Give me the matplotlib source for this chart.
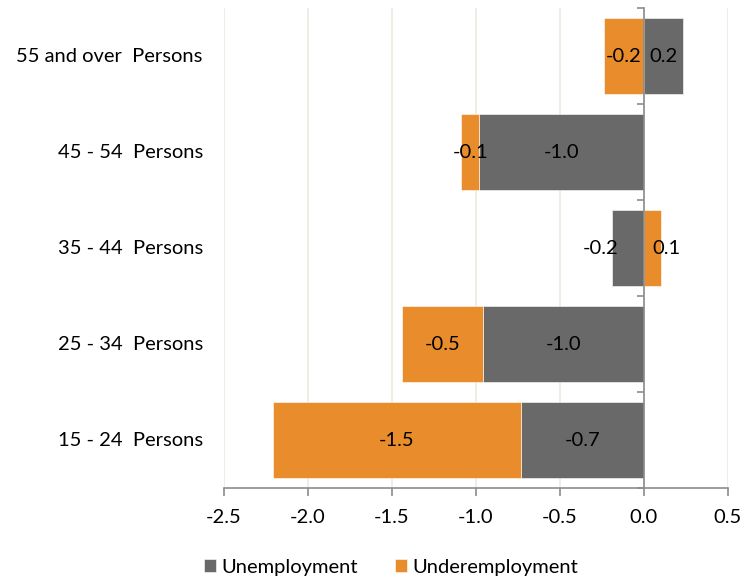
import matplotlib.pyplot as plt
import numpy as np

# Veränderung nach Altersgruppe (Prozentpunkte)
categories = ['15 - 24  Persons', '25 - 34  Persons', '35 - 44  Persons',
              '45 - 54  Persons', '55 and over  Persons']
unemployment = [-0.73, -0.96, -0.19, -0.98, 0.23]
underemployment = [-1.48, -0.48, 0.10, -0.11, -0.24]
xticks = [-2.5, -2.0, -1.5, -1.0, -0.5, 0.0, 0.5]

grey = '#696969'
orange = '#E98C2B'
axis_col = '#8C8C8C'
grid_col = '#EEEAE0'

plt.rcParams['font.family'] = ['Lato', 'DejaVu Sans']
plt.rcParams['font.size'] = 14.5

fig = plt.figure(figsize=(7.43, 5.81), dpi=100)
ax = fig.add_axes([224 / 743, 1 - 488 / 581, 504 / 743, 480 / 581])

y = np.arange(len(categories))
unemp = np.array(unemployment)
under = np.array(underemployment)
# positive und negative Werte getrennt stapeln
under_left = np.where(np.sign(under) == np.sign(unemp), unemp, 0.0)

ax.barh(y, unemp, height=0.8, color=grey, edgecolor='white', linewidth=0.4,
        label='Unemployment', zorder=3)
ax.barh(y, under, left=under_left, height=0.8, color=orange, edgecolor='white',
        linewidth=0.4, label='Underemployment', zorder=3)

# Beschriftungen in der Mitte der Balken
offsets_u = [0, 0, -27, 0, 0]
offsets_o = [0, 0, 14, 0, 0]
for i in range(len(categories)):
    ax.annotate(f'{unemp[i]:.1f}', (unemp[i] / 2, y[i]), xytext=(offsets_u[i], 0),
                textcoords='offset pixels', ha='center', va='center', zorder=5)
    ax.annotate(f'{under[i]:.1f}', (under_left[i] + under[i] / 2, y[i]),
                xytext=(offsets_o[i], 0), textcoords='offset pixels',
                ha='center', va='center', zorder=5)

ax.set_xlim(-2.5, 0.5)
ax.set_ylim(-0.5, len(categories) - 0.5)
ax.set_xticks(xticks)
ax.set_xticklabels([f'{t:.1f}' for t in xticks])
ax.xaxis.grid(True, color=grid_col, linewidth=1.2, zorder=0)
ax.set_axisbelow(True)

for s in ['top', 'right']:
    ax.spines[s].set_visible(False)
ax.spines['bottom'].set_color(axis_col)
ax.spines['bottom'].set_linewidth(1.2)
ax.spines['left'].set_position(('data', 0))
ax.spines['left'].set_color(axis_col)
ax.spines['left'].set_linewidth(1.2)
ax.spines['left'].set_zorder(4)
ax.tick_params(axis='x', direction='out', length=6, width=1.2, color=axis_col, pad=9)

ax.set_yticks(y)
ax.set_yticklabels([])
ax.tick_params(axis='y', which='major', length=0)
ax.set_yticks(np.arange(-0.5, len(categories), 1.0), minor=True)
ax.tick_params(axis='y', which='minor', direction='out', length=5, width=1.2, color=axis_col)

for i, c in enumerate(categories):
    ax.text(-0.042, y[i], c, transform=ax.get_yaxis_transform(), ha='right', va='center')

fig.legend(loc='center', bbox_to_anchor=(391 / 743, 1 - 567 / 581), ncol=2, frameon=False,
           handlelength=0.6, handleheight=0.6, handletextpad=0.3, columnspacing=1.8)

plt.savefig('out.png', dpi=100)
